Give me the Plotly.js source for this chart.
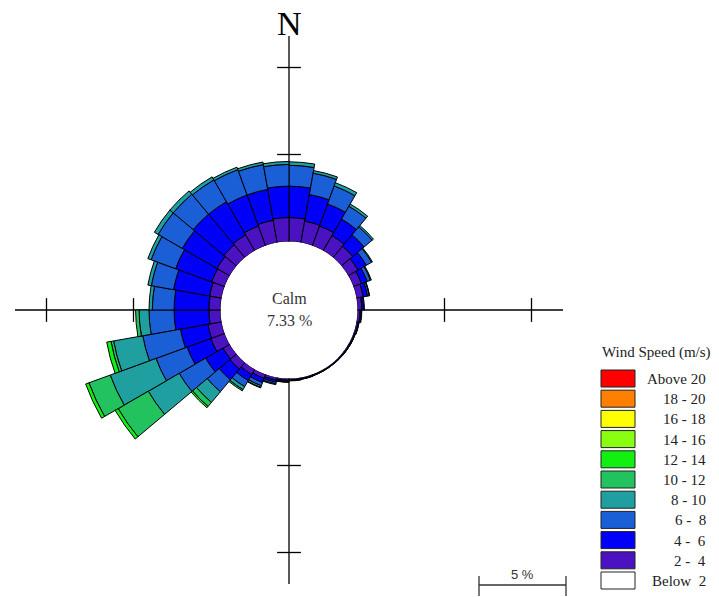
<!DOCTYPE html>
<html>
<head>
<meta charset="utf-8">
<script src="https://cdn.plot.ly/plotly-3.0.1.min.js"></script>
<style>html,body{margin:0;padding:0;background:#fff;}#chart{width:719px;height:597px;}</style>
</head>
<body>
<div id="chart"></div>
<script>
// ---- data ----
const directions = [5,15,25,35,45,55,65,75,85,95,105,115,125,135,145,155,165,175,
                    185,195,205,215,225,235,245,255,265,275,285,295,305,315,325,335,345,355];
const speedLabels = ["Below  2","2 -  4","4 -  6","6 -  8","8 - 10","10 - 12","12 - 14","14 - 16","16 - 18","18 - 20","Above 20"];
const speedColors = ["#ffffff","#4a12c0","#0000fa","#1a5fd6","#1f9f9f","#22c25e","#12f012","#88ff10","#ffff00","#ff8000","#ff0000"];
const below2 = new Array(36).fill(0);
const s2_4  = [1.38,1.25,1.20,1.00,0.85,0.65,0.50,0.40,0.25,0.15,0.10,0.08,0.07,0.07,0.06,0.06,0.07,0.08,
               0.10,0.15,0.25,0.35,0.50,0.45,0.85,0.80,0.67,0.67,0.70,0.80,0.85,0.95,1.05,1.20,1.30,1.38];
const s4_6  = [1.80,1.55,1.35,1.10,0.85,0.55,0.35,0.25,0.10,0.07,0.04,0.03,0.03,0.02,0.02,0.02,0.03,0.04,
               0.06,0.12,0.25,0.40,0.80,1.15,1.45,1.60,2.00,2.00,2.10,2.20,2.30,2.30,2.20,1.90,1.80,1.80];
const s6_8  = [1.20,1.25,1.10,0.85,0.60,0.35,0.20,0.10,0.05,0.03,0.02,0.01,0.01,0.01,0.01,0.01,0.01,0.02,
               0.04,0.10,0.20,0.40,0.90,1.75,1.90,2.20,1.44,1.25,1.30,1.50,1.60,1.50,1.45,1.55,1.45,1.25];
const s8_10 = [0.20,0.15,0.20,0.15,0.10,0.05,0.05,0.02,0,0,0,0,0,0,0,0,0,0,
               0.02,0.05,0.10,0.20,0.80,2.05,2.80,1.70,0.57,0.19,0.20,0.20,0.25,0.25,0.20,0.15,0.15,0.17];
const s10_12= [0,0,0,0,0,0,0,0,0,0,0,0,0,0,0,0,0,0,
               0,0,0.03,0.08,0.30,2.00,1.30,0.15,0.20,0,0,0,0,0,0,0,0,0];
const s12_14= [0,0,0,0,0,0,0,0,0,0,0,0,0,0,0,0,0,0,
               0,0,0,0,0.10,0.20,0.20,0.25,0,0,0,0,0,0,0,0,0,0];
const s14_16 = new Array(36).fill(0);
const s16_18 = new Array(36).fill(0);
const s18_20 = new Array(36).fill(0);
const s20up  = new Array(36).fill(0);
const calmText = "7.33 %";
const ringTicks = [5, 10];
const axisDirs = [0, 90, 180, 270];
const scaleBarPct = 5;

// ---- geometry / layout ----
const W = 719, H = 597;
const cx = 289, cy = 310, R = 274, calmPx = 68.5, pxPerPct = 17.4;
const rmax = (R - calmPx) / pxPerPct;
const hole = calmPx / R;

const series = [below2, s2_4, s4_6, s6_8, s8_10, s10_12, s12_14, s14_16, s16_18, s18_20, s20up];
const traces = series.map((vals, k) => ({
  type: 'barpolar',
  r: vals,
  theta: directions,
  name: speedLabels[k],
  marker: {color: speedColors[k], line: {color: '#000', width: 1}},
  hoverinfo: 'skip'
}));

// axis tick marks
const tr = [], tt = [], ts = [];
axisDirs.forEach(d => ringTicks.forEach(v => {
  tr.push(v); tt.push(d); ts.push((d % 180 === 0) ? 'line-ew' : 'line-ns');
}));
traces.push({
  type: 'scatterpolar', mode: 'markers', r: tr, theta: tt, hoverinfo: 'skip',
  marker: {symbol: ts, size: 17, color: '#000', line: {color: '#000', width: 1.3}}
});

const serif = 'Liberation Serif, Times New Roman, serif';
function txt(text, px, py, size, color, xanchor, family) {
  return {text: text, x: px / W, y: 1 - py / H, xref: 'paper', yref: 'paper', showarrow: false,
    xanchor: xanchor || 'center', yanchor: 'middle',
    font: {family: family || serif, size: size, color: color}};
}
const annotations = [
  txt('N', cx, 23, 34, '#000'),
  txt('Calm', cx, 298, 16, '#333'),
  txt(calmText, cx, 320, 16, '#333'),
  txt('Wind Speed (m/s)', 656, 352, 15, '#222'),
  txt(scaleBarPct + ' %', 522, 574, 13, '#333', 'center', 'Liberation Sans, Arial, sans-serif')
];
const shapes = [];
// legend (top: Above 20 ... bottom: Below 2)
const n = speedLabels.length;
for (let i = 0; i < n; i++) {
  const k = n - 1 - i;
  const top = 370 + i * 20.2, bot = top + 17;
  shapes.push({type: 'rect', xref: 'paper', yref: 'paper',
    x0: 601 / W, x1: 635 / W, y0: 1 - bot / H, y1: 1 - top / H,
    fillcolor: speedColors[k], line: {color: '#222', width: 1}});
  annotations.push(txt(speedLabels[k], 708, top + 9, 15, '#222', 'right'));
}
// scale bar
const barLen = scaleBarPct * (R * (1 - hole) / rmax);
const bx0 = 479, bx1 = bx0 + barLen, by = 585;
shapes.push({type: 'line', xref: 'paper', yref: 'paper', x0: bx0 / W, x1: bx1 / W, y0: 1 - by / H, y1: 1 - by / H, line: {color: '#333', width: 1.3}});
shapes.push({type: 'line', xref: 'paper', yref: 'paper', x0: bx0 / W, x1: bx0 / W, y0: 1 - 576 / H, y1: 1 - 596 / H, line: {color: '#333', width: 1.3}});
shapes.push({type: 'line', xref: 'paper', yref: 'paper', x0: bx1 / W, x1: bx1 / W, y0: 1 - 576 / H, y1: 1 - 596 / H, line: {color: '#333', width: 1.3}});

const layout = {
  width: W, height: H,
  margin: {l: 0, r: 0, t: 0, b: 0},
  paper_bgcolor: '#fff',
  showlegend: false,
  hovermode: false,
  polar: {
    domain: {x: [(cx - R) / W, (cx + R) / W], y: [1 - (cy + R) / H, 1 - (cy - R) / H]},
    hole: hole,
    bargap: 0,
    barmode: 'stack',
    bgcolor: 'rgba(0,0,0,0)',
    radialaxis: {range: [0, rmax], showgrid: false, showline: false, showticklabels: false, ticks: ''},
    angularaxis: {rotation: 90, direction: 'clockwise', tickmode: 'array', tickvals: axisDirs,
      showgrid: true, gridcolor: '#000', gridwidth: 1.3, showline: false, showticklabels: false, ticks: ''}
  },
  annotations: annotations,
  shapes: shapes
};
Plotly.newPlot('chart', traces, layout, {staticPlot: true, displayModeBar: false});
</script>
</body>
</html>
